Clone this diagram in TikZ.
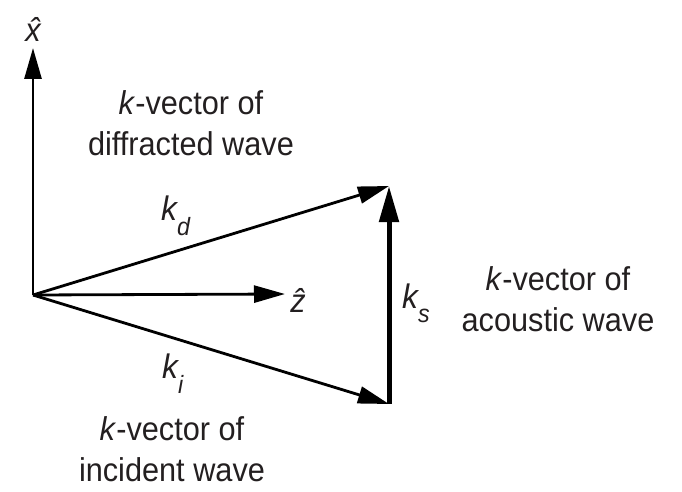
\documentclass[tikz,border=0pt]{standalone}
\usepackage{fontspec}
\setmainfont{Liberation Sans}
\newfontfamily\narrowsans{Liberation Sans}[FakeStretch=0.93]
\usetikzlibrary{arrows.meta}
\definecolor{txt}{HTML}{231F20}
\begin{document}
\begin{tikzpicture}[x=1pt,y=-1pt,
  vec/.style={line width=2.8pt, -{Triangle[length=31pt,width=17pt]}},
  thickvec/.style={line width=5pt, -{Triangle[length=36pt,width=19pt]}},
  lbl/.style={text=txt, font=\narrowsans\fontsize{33}{41}\selectfont, align=center, inner sep=0pt},
  klbl/.style={text=txt, font=\narrowsans\fontsize{34}{40}\selectfont\itshape, inner sep=0pt, anchor=base west},
  axlbl/.style={text=txt, font=\narrowsans\fontsize{33}{40}\selectfont\itshape, inner sep=0pt, anchor=base}]
\useasboundingbox (0,0) rectangle (682,492);
\coordinate (O) at (33,295);
\coordinate (X) at (33,48);
\coordinate (Z) at (285,294);
\coordinate (T) at (389,186);
\coordinate (B) at (389,404);
\draw[vec] (O) -- (X);
\draw[vec] (O) -- (Z);
\draw[vec] (O) -- (T);
\draw[vec] (O) -- (B);
\draw[thickvec] (B) -- (T);
\node[axlbl] (xh) at (33,42) {\^{x}};
\node[axlbl] (zh) at (298,312) {\^{z}};
\node[klbl] (kd) at (161,220) {k\raisebox{-15pt}{\fontsize{25}{25}\selectfont d}};
\node[klbl] (ki) at (162,378) {k\raisebox{-15pt}{\fontsize{25}{25}\selectfont i}};
\node[klbl] (ks) at (402,308) {k\raisebox{-14pt}{\fontsize{25}{25}\selectfont s}};
\node[lbl] (dtxt) at (191,123) {\textit{k}-vector of\\diffracted wave};
\node[lbl] (atxt) at (558,299) {\textit{k}-vector of\\acoustic wave};
\node[lbl] (itxt) at (172,449) {\textit{k}-vector of\\incident wave};
\end{tikzpicture}
\end{document}
